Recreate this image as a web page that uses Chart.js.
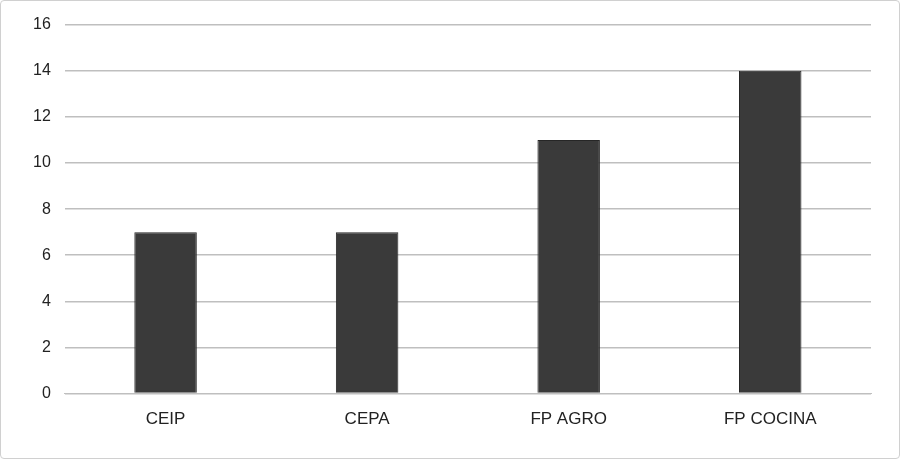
<!DOCTYPE html>
<html><head><meta charset="utf-8">
<script src="https://cdn.jsdelivr.net/npm/chart.js@4"></script>
<style>html,body{margin:0;padding:0;background:#fff}
#wrap{position:absolute;left:0;top:0;width:898px;height:457px;border:1px solid #d0d0d0;border-radius:4px}
</style></head><body>
<div id="wrap"><canvas id="c" width="898" height="457"></canvas></div>
<script>
const categories=["CEIP","CEPA","FP AGRO","FP COCINA"];
const values=[7,7,11,14];
const yTicks={min:0,max:16,step:2};
new Chart(document.getElementById('c'),{
type:'bar',
data:{labels:categories,datasets:[{data:values,backgroundColor:'#3a3a3a',borderColor:'#262626',borderWidth:1,barPercentage:0.31,categoryPercentage:1}]},
options:{responsive:false,animation:false,
layout:{padding:{left:18,right:28,top:16,bottom:20}},
plugins:{legend:{display:false},tooltip:{enabled:false}},
scales:{
x:{grid:{display:false},border:{color:'#bfbfbf'},ticks:{color:'#222',font:{family:'Liberation Sans',size:17},padding:8}},
y:{min:yTicks.min,max:yTicks.max,ticks:{stepSize:yTicks.step,color:'#222',font:{family:'Liberation Sans',size:16},padding:14},
grid:{color:'#bfbfbf',lineWidth:1.5,drawTicks:false},border:{display:false}}
}}});
</script></body></html>
